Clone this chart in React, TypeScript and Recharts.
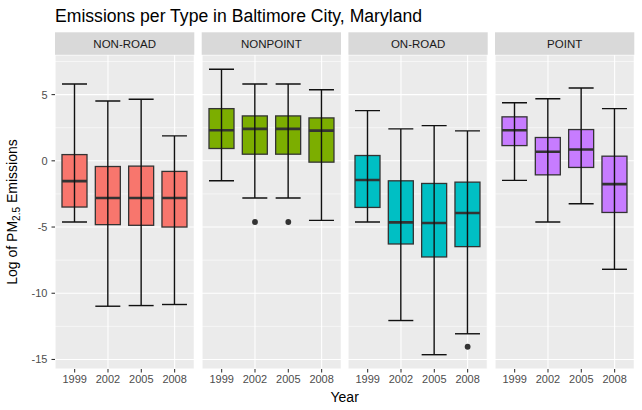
import { Bar, ComposedChart, XAxis, YAxis, CartesianGrid, Scatter } from 'recharts';

const years = ['1999', '2002', '2005', '2008'];
const types = ['NON-ROAD', 'NONPOINT', 'ON-ROAD', 'POINT'];
const fills = ['#F8766D', '#7CAE00', '#00BFC4', '#C77CFF'];

// [min, q1, median, q3, max] per year
const nonRoad = [
  [-4.62, -3.49, -1.53, 0.47, 5.8],
  [-10.98, -4.82, -2.81, -0.43, 4.52],
  [-10.93, -4.87, -2.81, -0.4, 4.65],
  [-10.85, -5.0, -2.81, -0.8, 1.88],
];
const nonPoint = [
  [-1.51, 0.93, 2.31, 3.94, 6.91],
  [-2.81, 0.5, 2.41, 3.39, 5.8],
  [-2.81, 0.5, 2.41, 3.39, 5.8],
  [-4.5, -0.1, 2.28, 3.24, 5.37],
];
const onRoad = [
  [-4.62, -3.52, -1.45, 0.4, 3.79],
  [-12.06, -6.28, -4.65, -1.51, 2.41],
  [-14.64, -7.26, -4.7, -1.71, 2.66],
  [-13.06, -6.48, -3.94, -1.61, 2.26],
];
const point = [
  [-1.48, 1.15, 2.31, 3.32, 4.39],
  [-4.62, -1.06, 0.68, 1.76, 4.69],
  [-3.24, -0.5, 0.85, 2.36, 5.5],
  [-8.19, -3.9, -1.76, 0.35, 3.94],
];
const outliers = [
  [null, null, null, null],
  [null, -4.62, -4.62, null],
  [null, null, null, -14.04],
  [null, null, null, null],
];
const stats = [nonRoad, nonPoint, onRoad, point];

const yTicks = [-15, -10, -5, 0, 5];
const minorTicks = [-12.5, -7.5, -2.5, 2.5, 7.5];
const yDomain = [-15.72, 7.99];

const FONT = '"Liberation Sans", Arial, sans-serif';
const panelLefts = [55, 201.7, 348.4, 495];
const panelW = 139.3;
const panelTop = 55;
const panelH = 314;

function BoxShape(props: any) {
  const { x, y, width, height, payload, fill } = props;
  const [min, q1, med, q3, max] = payload.stats;
  const top = Math.min(y, y + height);
  const bottom = Math.max(y, y + height);
  const px = (v: number) => top + ((max - v) / (max - min)) * (bottom - top);
  const cx = x + width / 2;
  return (
    <g>
      <rect x={x} y={px(q3)} width={width} height={px(q1) - px(q3)} fill={fill} stroke="#333333" strokeWidth={1.3} />
      <line x1={x} x2={x + width} y1={px(med)} y2={px(med)} stroke="#333333" strokeWidth={2.6} />
      <line x1={cx} x2={cx} y1={px(max)} y2={px(min)} stroke="#111" strokeWidth={1.4} />
      <line x1={x} x2={x + width} y1={px(max)} y2={px(max)} stroke="#111" strokeWidth={1.4} />
      <line x1={x} x2={x + width} y1={px(min)} y2={px(min)} stroke="#111" strokeWidth={1.4} />
    </g>
  );
}

function OutlierDot(props: any) {
  if (props.payload?.outlier == null) return <g />;
  return <circle cx={props.cx} cy={props.cy} r={2.9} fill="#333333" />;
}

function Panel({ idx }: { idx: number }) {
  const data = years.map((yr, i) => ({
    year: yr,
    stats: stats[idx][i],
    range: [stats[idx][i][0], stats[idx][i][4]],
    outlier: outliers[idx][i],
  }));
  const first = idx === 0;
  const left = first ? 0 : panelLefts[idx];
  const width = first ? panelLefts[0] + panelW : panelW;
  const tickStyle = { fill: '#4D4D4D', fontSize: 11, fontFamily: FONT };
  return (
    <div style={{ position: 'absolute', left, top: panelTop }}>
      <ComposedChart width={width} height={panelH + 25} data={data} margin={{ top: 0, right: 0, bottom: 0, left: 0 }}>
        <CartesianGrid fill="#EBEBEB" fillOpacity={1} stroke="#FFFFFF" strokeWidth={0.55} vertical={false} horizontalValues={minorTicks} />
        <CartesianGrid stroke="#FFFFFF" strokeWidth={1.07} />
        <XAxis
          dataKey="year"
          height={25}
          padding={{ left: 3, right: 3 }}
          axisLine={false}
          tickSize={3.5}
          tickMargin={3}
          tickLine={{ stroke: '#333333', strokeWidth: 1.07 }}
          tick={tickStyle}
        />
        <YAxis
          hide={!first}
          type="number"
          domain={yDomain}
          allowDataOverflow
          ticks={yTicks}
          width={55}
          axisLine={false}
          tickSize={3.5}
          tickMargin={4}
          tickLine={{ stroke: '#333333', strokeWidth: 1.07 }}
          tick={tickStyle}
        />
        <Bar dataKey="range" barSize={25} fill={fills[idx]} shape={<BoxShape />} isAnimationActive={false} />
        <Scatter dataKey="outlier" shape={<OutlierDot />} isAnimationActive={false} />
      </ComposedChart>
    </div>
  );
}

export default function App() {
  return (
    <div style={{ position: 'absolute', left: 0, top: 0, width: 642, height: 410, background: '#fff', fontFamily: FONT }}>
      {types.map((_, i) => (
        <Panel key={i} idx={i} />
      ))}
      <svg width={642} height={410} style={{ position: 'absolute', left: 0, top: 0, pointerEvents: 'none' }}>
        <text x={55} y={22} fontSize={17.6} fontFamily={FONT} fill="#000">
          Emissions per Type in Baltimore City, Maryland
        </text>
        {types.map((t, i) => (
          <g key={t}>
            <rect x={panelLefts[i]} y={32.3} width={panelW} height={22.5} fill="#D9D9D9" />
            <text x={panelLefts[i] + panelW / 2} y={47.6} textAnchor="middle" fontSize={11.5} fontFamily={FONT} fill="#1A1A1A">
              {t}
            </text>
          </g>
        ))}
        <text x={(panelLefts[0] + panelLefts[3] + panelW) / 2} y={402} textAnchor="middle" fontSize={14} fontFamily={FONT} fill="#000">
          Year
        </text>
        <text transform={`translate(17.3, ${panelTop + panelH / 2}) rotate(-90)`} textAnchor="middle" fontSize={14} fontFamily={FONT} fill="#000">
          Log of PM<tspan fontSize={10} dy={3}>2.5</tspan>
          <tspan dy={-3}> Emissions</tspan>
        </text>
      </svg>
    </div>
  );
}
